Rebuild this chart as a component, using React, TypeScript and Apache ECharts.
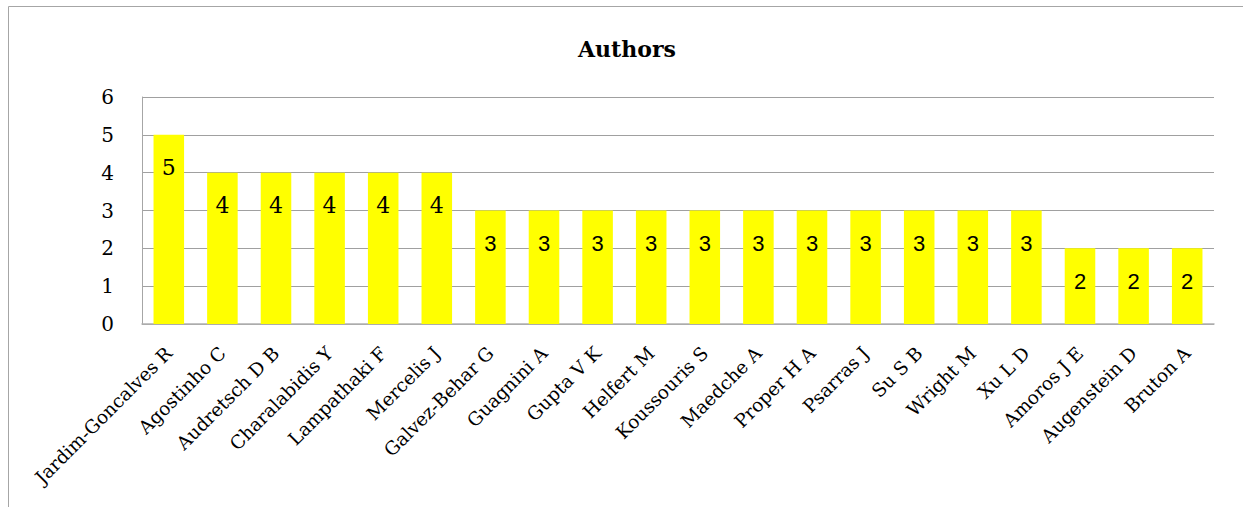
import React, { useEffect, useRef } from "react";
import * as echarts from "echarts";

const categories = [
  "Jardim-Goncalves R", "Agostinho C", "Audretsch D B", "Charalabidis Y", "Lampathaki F",
  "Mercelis J", "Galvez-Behar G", "Guagnini A", "Gupta V K", "Helfert M", "Koussouris S",
  "Maedche A", "Proper H A", "Psarras J", "Su S B", "Wright M", "Xu L D", "Amoros J E",
  "Augenstein D", "Bruton A",
];
const values = [5, 4, 4, 4, 4, 4, 3, 3, 3, 3, 3, 3, 3, 3, 3, 3, 3, 2, 2, 2];
const yTicks = [0, 1, 2, 3, 4, 5, 6];

const SERIF = "DejaVu Serif";
const SANS = "Liberation Sans";

export default function App() {
  const ref = useRef<HTMLDivElement>(null);
  useEffect(() => {
    if (!ref.current) return;
    const chart = echarts.init(ref.current, null, { renderer: "svg" });
    chart.setOption({
      animation: false,
      backgroundColor: "#ffffff",
      title: {
        text: "Authors",
        left: 573,
        top: 33,
        textStyle: { fontFamily: SERIF, fontWeight: "bold", fontSize: 22, color: "#000" },
      },
      graphic: [
        {
          type: "rect",
          shape: { x: 8.5, y: 6.5, width: 1400, height: 700 },
          style: { fill: "none", stroke: "#a6a6a6", lineWidth: 1 },
          silent: true,
        },
      ],
      grid: { left: 142, top: 97, right: 29, bottom: 183, containLabel: false },
      xAxis: {
        type: "category",
        data: categories,
        axisLine: { lineStyle: { color: "#b0b0b0", width: 1.5 } },
        axisTick: { show: false },
        axisLabel: {
          interval: 0,
          rotate: 45,
          margin: 26,
          fontFamily: SERIF,
          fontSize: 18.5,
          color: "#000",
        },
      },
      yAxis: {
        type: "value",
        min: yTicks[0],
        max: yTicks[yTicks.length - 1],
        interval: 1,
        axisLine: { show: true, lineStyle: { color: "#a6a6a6" } },
        axisTick: { show: false },
        splitLine: { lineStyle: { color: "#a0a0a0", width: 1 } },
        axisLabel: { margin: 28, fontFamily: SERIF, fontSize: 20, color: "#000" },
      },
      series: [
        {
          type: "bar",
          data: values.map((v) =>
            v >= 4
              ? { value: v }
              : { value: v, label: { fontFamily: SANS, fontSize: 22 } }
          ),
          barCategoryGap: "43%",
          itemStyle: { color: "#ffff00" },
          label: {
            show: true,
            position: "insideTop",
            distance: 22,
            color: "#000",
            fontFamily: SERIF,
            fontSize: 22,
          },
        },
      ],
    });
    return () => chart.dispose();
  }, []);
  return (
    <div
      ref={ref}
      style={{ position: "absolute", left: 0, top: 0, width: 1243, height: 507 }}
    />
  );
}
